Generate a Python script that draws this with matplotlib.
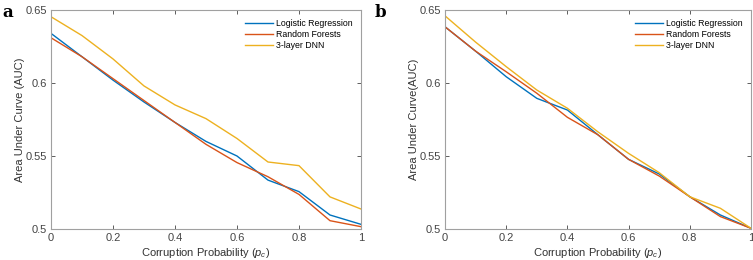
import numpy as np
import matplotlib
matplotlib.use('Agg')
import matplotlib.pyplot as plt

plt.rcParams['font.family'] = ['Liberation Sans', 'DejaVu Sans']
plt.rcParams['mathtext.fontset'] = 'custom'
plt.rcParams['mathtext.it'] = 'Liberation Sans:italic'
plt.rcParams['mathtext.rm'] = 'Liberation Sans'

# corruption probability
pc = [0.0, 0.1, 0.2, 0.3, 0.4, 0.5, 0.6, 0.7, 0.8, 0.9, 1.0]

# panel a
lr_a = [0.634, 0.618, 0.602, 0.587, 0.573, 0.560, 0.550, 0.5335, 0.5256, 0.5096, 0.5032]
rf_a = [0.631, 0.618, 0.603, 0.588, 0.573, 0.558, 0.5455, 0.5358, 0.5237, 0.5057, 0.5016]
dnn_a = [0.6454, 0.6325, 0.6165, 0.598, 0.585, 0.5756, 0.562, 0.5459, 0.5434, 0.522, 0.5137]

# panel b
lr_b = [0.6385, 0.6218, 0.6043, 0.5895, 0.5815, 0.5645, 0.5477, 0.5377, 0.5221, 0.5096, 0.5005]
rf_b = [0.6385, 0.6218, 0.6077, 0.593, 0.5765, 0.5645, 0.5477, 0.5363, 0.5221, 0.5085, 0.5005]
dnn_b = [0.646, 0.628, 0.6112, 0.5952, 0.5827, 0.5665, 0.5518, 0.5386, 0.5221, 0.5142, 0.5005]

names = ['Logistic Regression', 'Random Forests', '3-layer DNN']
colors = ['#0072BD', '#D95319', '#EDB120']

fig = plt.figure(figsize=(7.53, 2.6), dpi=100)
ax_a = fig.add_axes([0.0677, 0.1192, 0.4117, 0.8423])
ax_b = fig.add_axes([0.591, 0.1192, 0.4063, 0.8423])

panels = [(ax_a, [lr_a, rf_a, dnn_a], 'Area Under Curve (AUC)', 'a'),
          (ax_b, [lr_b, rf_b, dnn_b], 'Area Under Curve(AUC)', 'b')]

for ax, series, ylab, tag in panels:
    for s, name, c in zip(series, names, colors):
        ax.plot(pc, s, color=c, lw=1.0, label=name)
    ax.set_xlim(0, 1)
    ax.set_ylim(0.5, 0.65)
    ax.set_xticks([0, 0.2, 0.4, 0.6, 0.8, 1])
    ax.set_xticklabels(['0', '0.2', '0.4', '0.6', '0.8', '1'])
    ax.set_yticks([0.5, 0.55, 0.6, 0.65])
    ax.set_yticklabels(['0.5', '0.55', '0.6', '0.65'])
    ax.tick_params(direction='in', length=3, width=0.6, top=True, right=True,
                   labelsize=8, colors='#444444', pad=3)
    for sp in ax.spines.values():
        sp.set_color('#a0a0a0')
        sp.set_linewidth(0.8)
    ax.set_xlabel(r'Corruption Probability ($p_c$)', fontsize=8, color='#333333', labelpad=2)
    ax.set_ylabel(ylab, fontsize=8, color='#333333', labelpad=0.5)
    ax.legend(loc='upper right', frameon=False, fontsize=6.3, handlelength=3.2,
              handletextpad=0.35, labelspacing=0.22, borderaxespad=0.6)

fig.text(0.003, 0.985, 'a', fontsize=12, fontweight='bold', family='DejaVu Serif', va='top')
fig.text(0.498, 0.985, 'b', fontsize=12, fontweight='bold', family='DejaVu Serif', va='top')

fig.savefig('out.png', dpi=100)
